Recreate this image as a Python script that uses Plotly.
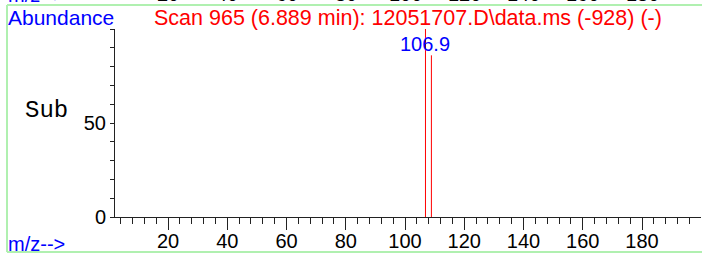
import plotly.graph_objects as go

# ---- data ----
peak_mz = [106.9, 108.9]
peak_abundance = [100, 86]
peak_label = "106.9"
x_tick_vals = [20, 40, 60, 80, 100, 120, 140, 160, 180]
x_tick_text = ["20", "40", "60", "80", "100", "120", "140", "160", "180"]
y_tick_vals = [0, 50]
y_tick_text = ["0", "50"]
title_text = "Scan 965 (6.889 min): 12051707.D\\data.ms (-928) (-)"

# ---- geometry ----
W, H = 702, 255
ML, MR, MT, MB = 115, 1, 29, 38
PW = W - ML - MR
PH = H - MT - MB


def px_x(p):
    return (p - ML) / PW


def px_y(p):
    return (H - MB - p) / PH


FONT = "Liberation Sans, Arial, sans-serif"
GREEN = "rgb(176,240,176)"

xs, ys = [], []
for m, a in zip(peak_mz, peak_abundance):
    xs += [m, m, None]
    ys += [0, a, None]

fig = go.Figure()
fig.add_trace(go.Scatter(x=xs, y=ys, mode="lines",
                         line=dict(color="#ff0000", width=1),
                         hoverinfo="skip", showlegend=False, cliponaxis=False))

annotations = [
    dict(text="Abundance", x=px_x(6), y=px_y(18), xref="paper", yref="paper",
         xanchor="left", yanchor="middle", showarrow=False,
         font=dict(family=FONT, size=21, color="#0000ff")),
    dict(text=title_text, x=px_x(407.5), y=px_y(18), xref="paper", yref="paper",
         xanchor="center", yanchor="middle", showarrow=False,
         font=dict(family=FONT, size=21.5, color="#ff0000")),
    dict(text=peak_label, x=peak_mz[0], y=peak_abundance[0], xref="x", yref="y",
         xanchor="center", yanchor="top", yshift=-2, showarrow=False,
         font=dict(family=FONT, size=20, color="#0000ff")),
    dict(text="Sub", x=px_x(23), y=px_y(110), xref="paper", yref="paper",
         xanchor="left", yanchor="middle", showarrow=False,
         font=dict(family="Liberation Mono, Courier New, monospace", size=24, color="#000000")),
    dict(text="m/z-->", x=px_x(6), y=px_y(244), xref="paper", yref="paper",
         xanchor="left", yanchor="middle", showarrow=False,
         font=dict(family=FONT, size=20, color="#0000ff")),
    # remnants of the panel above (cut off at the top edge)
    dict(text="m/z-->", x=px_x(6), y=px_y(8), xref="paper", yref="paper",
         xanchor="left", yanchor="bottom", showarrow=False,
         font=dict(family=FONT, size=20, color="#0000ff")),
]
for v, t in zip(x_tick_vals, x_tick_text):
    annotations.append(dict(text=t, x=v, y=px_y(7), xref="x", yref="paper",
                            xanchor="center", yanchor="bottom", showarrow=False,
                            font=dict(family=FONT, size=20, color="#000000")))

shapes = [
    dict(type="line", xref="paper", yref="paper", x0=px_x(7), x1=px_x(710),
         y0=px_y(5), y1=px_y(5), line=dict(color=GREEN, width=2)),
    dict(type="line", xref="paper", yref="paper", x0=px_x(7), x1=px_x(710),
         y0=px_y(252), y1=px_y(252), line=dict(color=GREEN, width=2)),
    dict(type="line", xref="paper", yref="paper", x0=px_x(7), x1=px_x(7),
         y0=px_y(5), y1=px_y(252), line=dict(color=GREEN, width=2)),
]

fig.update_layout(
    width=W, height=H,
    margin=dict(l=ML, r=MR, t=MT, b=MB, pad=0, autoexpand=False),
    plot_bgcolor="white", paper_bgcolor="white",
    annotations=annotations, shapes=shapes,
    xaxis=dict(range=[2.1, 199.9], showgrid=False, zeroline=False, automargin=False,
               showline=True, linecolor="#222222", linewidth=1,
               ticks="outside", tickvals=x_tick_vals, ticktext=x_tick_text,
               ticklen=12, tickcolor="#222222", tickwidth=1,
               ticklabelstandoff=-6,
               minor=dict(dtick=4, tick0=0, ticks="outside", ticklen=6,
                          tickcolor="#222222", tickwidth=1, showgrid=False),
               tickfont=dict(family=FONT, size=20, color="#000000")),
    yaxis=dict(range=[0, 100], showgrid=False, zeroline=False, automargin=False,
               showline=True, linecolor="#222222", linewidth=1,
               ticks="outside", tickvals=y_tick_vals, ticktext=y_tick_text,
               ticklen=4, tickcolor="#222222", tickwidth=1,
               minor=dict(dtick=10, tick0=0, ticks="outside", ticklen=4,
                          tickcolor="#222222", tickwidth=1, showgrid=False),
               tickfont=dict(family=FONT, size=20, color="#000000")),
)

fig.write_html("out.html", config={"displayModeBar": False, "staticPlot": True},
               post_script="document.body.style.margin='0';document.body.style.overflow='hidden';")
